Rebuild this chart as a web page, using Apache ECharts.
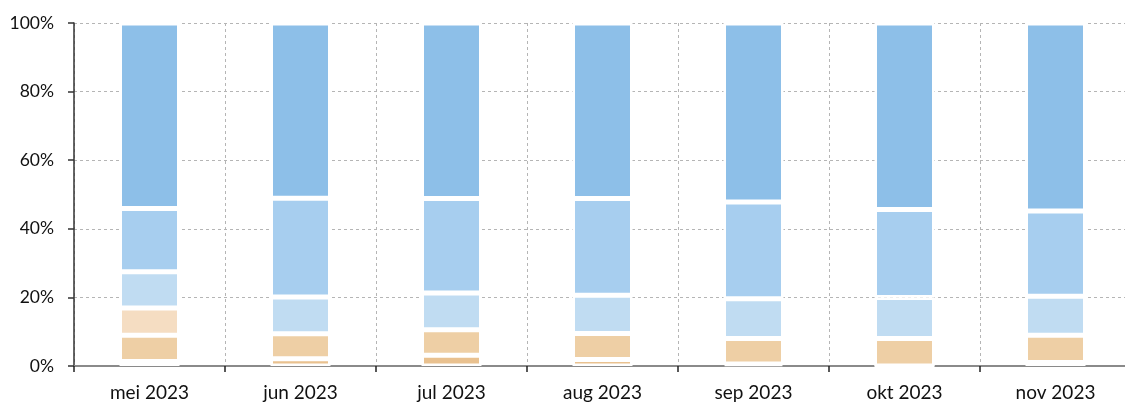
<!DOCTYPE html>
<html>
<head>
<meta charset="utf-8">
<script src="https://cdn.jsdelivr.net/npm/echarts@6/dist/echarts.min.js"></script>
<style>
html,body{margin:0;padding:0;background:#fff;overflow:hidden;width:1125px;height:405px;}
#chart{width:1140px;height:405px;}
</style>
</head>
<body>
<div id="chart"></div>
<script>
const categories = ['mei 2023','jun 2023','jul 2023','aug 2023','sep 2023','okt 2023','nov 2023'];
const darkOrange   = [1.3, 2.1, 3.1, 1.9, 0.6, 0.0, 1.0];
const orange       = [7.7, 7.3, 7.5, 7.6, 7.4, 8.0, 8.0];
const lightOrange  = [7.9, 0.0, 0.0, 0.0, 0.0, 0.0, 0.0];
const palestBlue   = [10.6, 10.7, 10.7, 11.1, 11.6, 12.0, 11.3];
const lightBlue    = [18.4, 28.8, 27.5, 28.2, 28.2, 25.6, 24.9];
const blue         = [54.1, 51.1, 51.2, 51.2, 52.2, 54.4, 54.8];
const yTicks = [0, 20, 40, 60, 80, 100];

const seriesDefs = [
  {name:'a', data: darkOrange,  color:'#E9C18F'},
  {name:'b', data: orange,      color:'#EECFA5'},
  {name:'c', data: lightOrange, color:'#F5DDC2'},
  {name:'d', data: palestBlue,  color:'#C0DCF2'},
  {name:'e', data: lightBlue,   color:'#A7CEEF'},
  {name:'f', data: blue,        color:'#8DBFE8'}
];

const chart = echarts.init(document.getElementById('chart'), null, {renderer:'canvas'});
const font = 'Lato, "Open Sans", sans-serif';
chart.setOption({
  animation: false,
  backgroundColor: '#fff',
  grid: {left: 74, top: 23, height: 343, width: 1057},
  xAxis: {
    type: 'category',
    data: categories,
    boundaryGap: true,
    axisLine: {show: true, lineStyle: {color: '#8a8a8a', width: 2}},
    axisTick: {show: true, length: 6, lineStyle: {color: '#222', width: 1.5}},
    axisLabel: {color: '#111', fontSize: 19, fontFamily: font, margin: 17},
    splitLine: {show: true, lineStyle: {color: '#b5b5b5', type: [3, 3], width: 1}}
  },
  yAxis: {
    type: 'value',
    min: yTicks[0],
    max: yTicks[yTicks.length - 1],
    interval: 20,
    axisLine: {show: true, lineStyle: {color: '#333', width: 1.5}},
    axisTick: {show: true, length: 6, lineStyle: {color: '#333', width: 1.5}},
    axisLabel: {color: '#111', fontSize: 17.5, fontFamily: font, margin: 20, formatter: v => v + '%'},
    splitLine: {show: true, lineStyle: {color: '#b5b5b5', type: [3, 3], width: 1}}
  },
  series: seriesDefs.map(s => ({
    name: s.name,
    type: 'bar',
    stack: 'total',
    data: s.data,
    barWidth: 60,
    itemStyle: {color: s.color, borderColor: '#fff', borderWidth: 2.5}
  }))
});
</script>
</body>
</html>
